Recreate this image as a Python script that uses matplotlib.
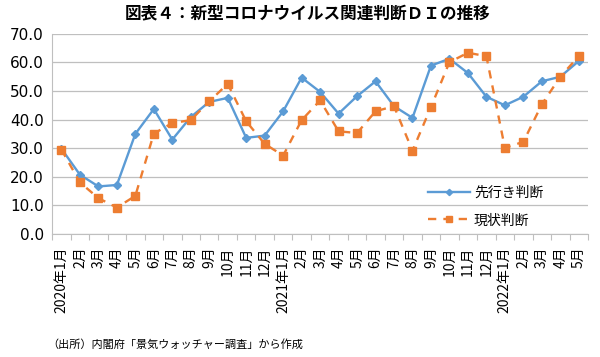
import matplotlib.pyplot as plt
import numpy as np
from matplotlib.ticker import FixedLocator, NullFormatter

plt.rcParams['font.family'] = ['Noto Sans CJK JP', 'DejaVu Sans']

# 月ラベル（2020年1月〜2022年5月）
months = ['2020年1月', '2月', '3月', '4月', '5月', '6月', '7月', '8月', '9月', '10月', '11月', '12月',
          '2021年1月', '2月', '3月', '4月', '5月', '6月', '7月', '8月', '9月', '10月', '11月', '12月',
          '2022年1月', '2月', '3月', '4月', '5月']

# 先行き判断DI
sakiyuki = [29.8, 20.7, 16.6, 17.1, 35.0, 43.7, 33.0, 40.9, 46.2, 47.6, 33.6, 34.4,
            42.9, 54.7, 49.7, 42.1, 48.2, 53.4, 44.7, 40.6, 58.9, 61.3, 56.3, 48.0,
            45.0, 48.0, 53.4, 55.0, 60.5]
# 現状判断DI
genjo = [29.5, 18.0, 12.5, 9.2, 13.3, 35.1, 38.8, 39.8, 46.4, 52.5, 39.4, 31.5,
         27.4, 39.8, 46.7, 35.9, 35.3, 42.9, 44.7, 29.1, 44.4, 60.1, 63.4, 62.2,
         30.1, 32.2, 45.3, 55.0, 62.2]

fig = plt.figure(figsize=(6, 3.57), dpi=100)
ax = fig.add_axes([0.087, 0.345, 0.893, 0.56])

x = np.arange(len(months))
ax.plot(x, sakiyuki, color='#5B9BD5', lw=1.7, marker='D', ms=4, label='先行き判断', zorder=3)
ax.plot(x, genjo, color='#ED7D31', lw=1.7, ls=(0, (3.5, 3)), marker='s', ms=6, label='現状判断', zorder=3)

ax.set_ylim(0, 70)
ax.set_xlim(-0.5, len(months) - 0.5)
ax.set_yticks(np.arange(0, 71, 10))
ax.set_yticklabels([f'{v:.1f}' for v in np.arange(0, 71, 10)], family='DejaVu Sans', fontsize=11)
ax.tick_params(axis='y', length=0, pad=6)
ax.grid(axis='y', color='#BFBFBF', lw=0.9)
ax.set_axisbelow(True)

# Excel風：目盛線は項目の間、ラベルは項目の中央
ax.xaxis.set_major_locator(FixedLocator(np.arange(-0.5, len(months), 1)))
ax.xaxis.set_major_formatter(NullFormatter())
ax.xaxis.set_minor_locator(FixedLocator(x))
ax.set_xticklabels(months, minor=True, rotation=90, fontsize=10)
ax.tick_params(axis='x', which='major', length=4, color='#BFBFBF', direction='out')
ax.tick_params(axis='x', which='minor', length=0, pad=9)

for s in ['top', 'right']:
    ax.spines[s].set_visible(False)
for s in ['left', 'bottom']:
    ax.spines[s].set_color('#BFBFBF')

ax.legend(loc='lower right', bbox_to_anchor=(0.94, -0.03), frameon=False, fontsize=10,
          handlelength=3.0, handletextpad=0.3, labelspacing=1.0, markerscale=0.8)

fig.text(0.513, 0.963, '図表４：新型コロナウイルス関連判断ＤＩの推移', ha='center', va='center',
         fontsize=12, fontweight='bold')
fig.text(0.078, 0.035, '（出所）内閣府「景気ウォッチャー調査」から作成', ha='left', va='center',
         fontsize=8)

fig.savefig('out.png', dpi=100)
